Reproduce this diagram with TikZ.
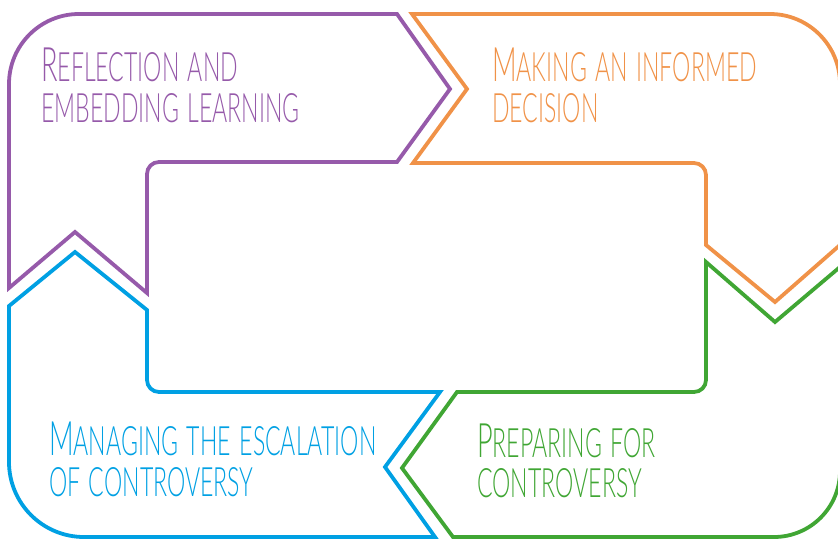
\documentclass[tikz,border=0pt]{standalone}
\usepackage{fontspec}
\newfontfamily\handfont{Lato Light}[FakeStretch=0.57, WordSpace=1.35]
\definecolor{cpurple}{RGB}{150,90,170}
\definecolor{corange}{RGB}{240,146,72}
\definecolor{cblue}{RGB}{0,160,227}
\definecolor{cgreen}{RGB}{64,166,52}
% first letter as a tall capital, the rest as small capitals
\newcommand\amcaps[2]{{\fontsize{47.5}{50}\selectfont #1}{\fontsize{40.5}{44}\selectfont\uppercase{#2}}}
\newcommand\amsmall[1]{{\fontsize{40.5}{44}\selectfont\uppercase{#1}}}
\tikzset{
  band/.style={line width=3.8pt, line join=miter},
  label/.style={anchor=base west, inner sep=0pt, font=\handfont}
}
\begin{document}
\begin{tikzpicture}[x=1pt,y=1pt]
\useasboundingbox (0,0) rectangle (838,539);
\clip (0,0) rectangle (838,539);

% stage 1: reflection (top left)
\draw[band, cpurple] (9,251) -- (9,455) arc[start angle=180, end angle=90, radius=70]
  -- (397,525) -- (450,450) -- (397,377) -- (159,377)
  arc[start angle=90, end angle=180, radius=12] -- (147,246) -- (75,307) -- cycle;

% stage 2: informed decision (top right)
\draw[band, corange] (412,525) -- (770,525) arc[start angle=90, end angle=0, radius=70]
  -- (840,294) -- (775,237) -- (706,294) -- (706,364)
  arc[start angle=0, end angle=90, radius=12] -- (413,376) -- (467,450) -- cycle;

% stage 3: preparing (bottom right)
\draw[band, cgreen] (706,277) -- (775,217) -- (840,272) -- (840,68)
  arc[start angle=0, end angle=-90, radius=66] -- (453,2) -- (402,71) -- (457,147)
  -- (694,147) arc[start angle=270, end angle=360, radius=12] -- cycle;

% stage 4: managing escalation (bottom left)
\draw[band, cblue] (9,233) -- (75,287) -- (147,229) -- (147,159)
  arc[start angle=180, end angle=270, radius=12] -- (440,147) -- (385,72) -- (435,2)
  -- (84,2) arc[start angle=270, end angle=180, radius=75] -- cycle;

% labels
\node[label, text=cpurple] (refA) at (41,457) {\amcaps{R}{eflection and}};
\node[label, text=cpurple] (refB) at (41,416) {\amsmall{embedding learning}};
\node[label, text=corange] (decA) at (492,457) {\amcaps{M}{aking an informed}};
\node[label, text=corange] (decB) at (492,416) {\amsmall{decision}};
\node[label, text=cblue] (manA) at (49,84) {\amcaps{M}{anaging the escalation}};
\node[label, text=cblue] (manB) at (49,43) {\amsmall{of controversy}};
\node[label, text=cgreen] (preA) at (477,82) {\amcaps{P}{reparing for}};
\node[label, text=cgreen] (preB) at (477,42) {\amsmall{controversy}};
\end{tikzpicture}
\end{document}
